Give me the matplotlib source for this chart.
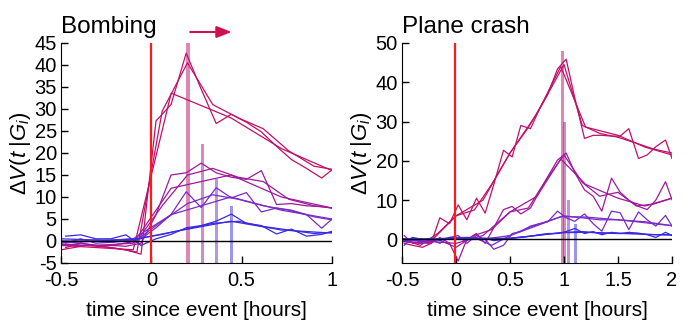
import matplotlib
matplotlib.use("Agg")
import matplotlib.pyplot as plt

plt.rcParams['font.family'] = ['Liberation Sans', 'DejaVu Sans']
plt.rcParams['mathtext.fontset'] = 'custom'
plt.rcParams['mathtext.rm'] = 'Liberation Sans'
plt.rcParams['mathtext.it'] = 'Liberation Sans:italic'
plt.rcParams['axes.unicode_minus'] = False

# group colours, red -> blue
colors = ['#c0106a', '#a0189c', '#7a2ac8', '#3a2ae0']

# ---------------- Bombing (left) ----------------
tA_L = [-0.474, -0.391, -0.307, -0.224, -0.141, -0.057, 0.026, 0.109, 0.193, 0.276,
        0.359, 0.443, 0.526, 0.609, 0.693, 0.776, 0.859, 0.943, 1.0]
tB_L = [-0.5, -0.36, -0.22, -0.08, 0.06, 0.2, 0.34, 0.48, 0.62, 0.76, 0.9, 1.0]
tC_L = [-0.5, -0.3, -0.1, 0.11, 0.44, 0.72, 1.0]

bomb_A = [
    [-1.5, -0.5, -1.0, -1.5, -2.0, -3.0, 27.3, 31.0, 42.7, 34.5, 26.7, 28.8, 27.0, 24.8, 21.5, 18.5, 16.5, 14.3, 16.2],
    [-1.0, -0.5, -1.0, -1.0, -1.2, -0.5, 6.0, 15.0, 15.5, 17.7, 15.5, 14.5, 14.0, 16.0, 8.3, 8.5, 8.0, 7.8, 7.5],
    [-0.5, 0.5, -0.5, -0.3, 0.0, 0.5, 3.0, 6.0, 11.2, 7.6, 12.1, 9.8, 11.0, 6.6, 7.5, 7.0, 6.0, 2.9, 5.0],
    [1.1, 1.4, 0.5, 0.5, 1.4, -1.0, 0.5, 1.5, 3.0, 3.5, 4.5, 6.1, 4.0, 3.5, 1.6, 2.7, 1.1, 1.5, 2.2],
]
bomb_B = [
    [-2.0, -1.0, -1.5, -2.5, 29.5, 40.5, 31.0, 28.0, 25.5, 20.5, 17.0, 16.3],
    [-0.8, -1.0, -1.0, 0.0, 8.0, 15.0, 16.5, 14.5, 13.5, 9.5, 8.0, 7.5],
    [-0.3, 0.0, -0.2, 0.3, 4.5, 8.5, 10.5, 9.5, 8.0, 7.0, 5.5, 4.8],
    [0.5, 0.3, 0.2, 0.5, 1.5, 2.8, 4.0, 4.5, 3.3, 2.5, 1.7, 2.0],
]
bomb_C = [
    [-1.0, -1.5, -2.0, 33.6, 28.0, 21.0, 16.0],
    [-1.0, -1.0, -0.5, 12.0, 15.0, 10.0, 7.5],
    [-0.5, 0.0, 0.5, 6.0, 10.0, 7.0, 5.0],
    [0.0, 0.0, 0.3, 2.0, 4.5, 2.5, 1.8],
]
bomb_peak_t = [0.203, 0.282, 0.361, 0.442]
bomb_peak_v = [45.0, 22.0, 14.0, 8.0]

# ---------------- Plane crash (right) ----------------
tA_R = [-0.48, -0.4, -0.31, -0.23, -0.15, -0.06, 0.02, 0.1, 0.19, 0.27, 0.35, 0.44, 0.52, 0.6,
        0.69, 0.77, 0.85, 0.94, 1.02, 1.1, 1.19, 1.27, 1.35, 1.44, 1.52, 1.6, 1.69, 1.77,
        1.85, 1.94, 2.0]
tB_R = [-0.5, -0.33, -0.17, 0.0, 0.17, 0.33, 0.5, 0.67, 0.83, 1.0, 1.17, 1.33, 1.5, 1.67, 1.83, 2.0]
tC_R = [-0.5, -0.25, 0.0, 0.25, 0.5, 0.75, 0.97, 1.2, 1.5, 1.75, 2.0]

crash_A = [
    [-1.0, -1.5, -2.0, -1.0, 5.5, 4.0, 8.8, 5.0, 10.5, 6.7, 14.0, 22.7, 21.0, 29.0, 28.2, 33.0,
     37.0, 43.4, 45.9, 36.0, 25.7, 26.5, 26.5, 26.3, 26.3, 28.2, 20.6, 21.5, 23.6, 25.3, 20.6],
    [1.0, -1.0, -0.5, -1.0, 0.5, -1.0, -5.5, 0.0, 1.5, -1.0, 3.0, 7.6, 8.4, 6.5, 8.0, 12.0,
     16.0, 20.2, 22.0, 17.0, 12.6, 11.0, 7.2, 15.6, 12.0, 10.0, 8.4, 7.6, 10.0, 14.7, 10.1],
    [-1.5, 0.5, -1.0, 0.0, -1.0, 0.5, 1.0, -1.0, 1.0, 0.0, -2.5, -1.5, 1.5, 2.0, 3.4, 4.0,
     4.5, 7.2, 5.5, 4.6, 6.5, 4.0, 2.1, 7.2, 6.8, 2.5, 7.0, 5.0, 3.4, 6.1, 3.4],
    [-0.5, 0.5, 0.0, 0.3, -0.3, 0.5, 0.2, 0.5, 0.0, 0.3, -0.3, 0.0, 0.3, 0.5, 0.8, 1.2,
     1.5, 1.5, 2.0, 2.8, 1.5, 2.0, 1.2, 1.8, 1.5, 1.8, 1.6, 1.2, 0.5, 1.8, 1.0],
]
crash_B = [
    [0.0, -1.5, 1.5, 6.0, 7.5, 14.0, 22.0, 28.5, 36.0, 44.5, 29.0, 27.0, 26.0, 24.5, 23.0, 22.0],
    [-0.5, -1.0, 0.0, -2.0, 1.0, 2.5, 7.0, 8.0, 15.0, 21.5, 14.5, 11.0, 12.0, 8.5, 9.0, 10.5],
    [0.0, -0.5, 0.0, 0.5, 0.5, -1.5, 1.0, 3.0, 4.5, 6.0, 5.5, 5.0, 5.0, 4.5, 4.0, 3.5],
    [0.0, 0.2, 0.0, 0.3, 0.2, 0.0, 0.3, 0.8, 1.3, 1.8, 2.0, 1.6, 1.5, 1.5, 1.2, 1.2],
]
crash_C = [
    [-0.5, -1.0, 6.0, 10.0, 22.0, 32.0, 44.0, 28.6, 26.5, 23.5, 21.5],
    [0.0, -0.5, -1.0, 1.0, 7.0, 11.0, 20.5, 14.0, 10.5, 8.5, 10.5],
    [-0.5, 0.0, 0.5, 0.0, 1.0, 3.5, 5.8, 5.7, 5.0, 4.5, 3.5],
    [0.2, 0.0, 0.2, 0.3, 0.3, 1.0, 1.7, 1.8, 1.6, 1.3, 1.1],
]
crash_peak_t = [0.99, 1.005, 1.04, 1.11]
crash_peak_v = [48.0, 30.0, 10.0, 4.0]

fig = plt.figure(figsize=(6.91, 3.25), dpi=100)
ax1 = fig.add_axes([61 / 691, 62 / 325, 271 / 691, 220 / 325])
ax2 = fig.add_axes([402 / 691, 62 / 325, 270 / 691, 220 / 325])


def draw_panel(ax, tA, tB, tC, A, B, C, peak_t, peak_v, bar_w, ylim, event_t):
    ybot = ylim[0]
    for i in range(4):
        ax.bar(peak_t[i], peak_v[i] - ybot, bottom=ybot, width=bar_w,
               color=colors[i], alpha=0.5, linewidth=0, zorder=1)
    for i in range(4):
        ax.plot(tC, C[i], color=colors[i], lw=0.9, zorder=2)
        ax.plot(tB, B[i], color=colors[i], lw=0.9, zorder=2)
        ax.plot(tA, A[i], color=colors[i], lw=0.9, zorder=2)
    ax.axhline(0, color='black', lw=1.0, zorder=3)
    ax.axvline(event_t, color='#ff1a1a', lw=1.6, zorder=4)
    ax.set_ylim(*ylim)
    for s in ['top', 'right']:
        ax.spines[s].set_visible(False)
    ax.tick_params(direction='in', length=5, width=1, labelsize=14.5)
    ax.tick_params(axis='x', pad=6)
    ax.tick_params(axis='y', pad=3)
    ax.set_xlabel('time since event [hours]', fontsize=15, labelpad=8)
    ax.set_ylabel(r'$\Delta V(t\;|G_i)$', fontsize=16, labelpad=1)


draw_panel(ax1, tA_L, tB_L, tC_L, bomb_A, bomb_B, bomb_C, bomb_peak_t, bomb_peak_v,
           0.017, (-5, 45), 0.0)
ax1.set_xlim(-0.5, 1.0)
ax1.set_xticks([-0.5, 0, 0.5, 1])
ax1.set_xticklabels(['-0.5', '0', '0.5', '1'])
ax1.set_yticks(range(-5, 46, 5))
ax1.text(0.0, 1.045, 'Bombing', transform=ax1.transAxes, fontsize=17.5, va='baseline', ha='left')
ax1.annotate('', xy=(0.46, 1.05), xytext=(0.2, 1.05),
             xycoords=('data', 'axes fraction'), textcoords=('data', 'axes fraction'),
             arrowprops=dict(arrowstyle='-|>,head_length=0.9,head_width=0.35',
                             color='#d0104a', lw=1.5), annotation_clip=False)

draw_panel(ax2, tA_R, tB_R, tC_R, crash_A, crash_B, crash_C, crash_peak_t, crash_peak_v,
           0.028, (-6, 50), -0.01)
ax2.set_xlim(-0.5, 2.0)
ax2.set_xticks([-0.5, 0, 0.5, 1, 1.5, 2])
ax2.set_xticklabels(['-0.5', '0', '0.5', '1', '1.5', '2'])
ax2.set_yticks(range(0, 51, 10))
ax2.text(0.0, 1.045, 'Plane crash', transform=ax2.transAxes, fontsize=17.5, va='baseline', ha='left')

fig.savefig('out.png', dpi=100)
